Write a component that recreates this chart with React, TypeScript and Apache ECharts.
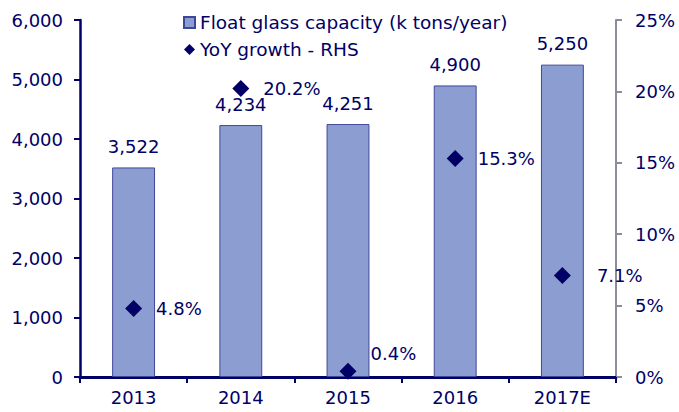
import React, { useEffect, useRef } from "react";
import * as echarts from "echarts";

const categories = ["2013", "2014", "2015", "2016", "2017E"];
const capacity = [3522, 4234, 4251, 4900, 5250];
const growth = [4.8, 20.2, 0.4, 15.3, 7.1];
const leftTicks = { min: 0, max: 6000, interval: 1000 };
const rightTicks = { min: 0, max: 25, interval: 5 };

const NAVY = "#000066";
const FONT = "DejaVu Sans";
const FS = 18;

export default function App() {
  const ref = useRef<HTMLDivElement>(null);
  useEffect(() => {
    if (!ref.current) return;
    const chart = echarts.init(ref.current, undefined, { renderer: "svg" });
    const scatterData = growth.map((v, i) => {
      const item: any = { value: v };
      if (i === 4) item.label = { distance: 26 };
      if (i === 2) item.label = { offset: [0, -18] };
      return item;
    });
    chart.setOption({
      animation: false,
      textStyle: { fontFamily: FONT, color: NAVY },
      grid: { left: 80, right: 63, top: 20, bottom: 35, containLabel: false },
      legend: {
        orient: "vertical",
        left: 178,
        top: 8,
        itemWidth: 11,
        itemHeight: 11,
        itemGap: 8,
        textStyle: { fontFamily: FONT, fontSize: 18.5, color: NAVY },
        data: [
          { name: "Float glass capacity (k tons/year)", icon: "rect" },
          { name: "YoY growth - RHS", icon: "diamond" },
        ],
      },
      xAxis: {
        type: "category",
        data: categories,
        axisLine: { lineStyle: { color: NAVY, width: 3 } },
        axisTick: { show: true, length: 6, lineStyle: { color: NAVY, width: 2 } },
        axisLabel: { fontFamily: FONT, fontSize: FS, color: NAVY, margin: 11 },
      },
      yAxis: [
        {
          type: "value",
          min: leftTicks.min,
          max: leftTicks.max,
          interval: leftTicks.interval,
          axisLine: { show: true, lineStyle: { color: NAVY, width: 2.5 } },
          axisTick: { show: true, length: 6, lineStyle: { color: NAVY, width: 2 } },
          splitLine: { show: false },
          axisLabel: {
            fontFamily: FONT,
            fontSize: FS,
            color: NAVY,
            margin: 17,
            formatter: (v: number) => v.toLocaleString("en-US"),
          },
        },
        {
          type: "value",
          min: rightTicks.min,
          max: rightTicks.max,
          interval: rightTicks.interval,
          position: "right",
          axisLine: { show: true, lineStyle: { color: "#8c8c9c", width: 2 } },
          axisTick: { show: true, length: 6, lineStyle: { color: "#8c8c9c", width: 2 } },
          splitLine: { show: false },
          axisLabel: {
            fontFamily: FONT,
            fontSize: FS,
            color: NAVY,
            margin: 19,
            formatter: (v: number) => v + "%",
          },
        },
      ],
      series: [
        {
          name: "Float glass capacity (k tons/year)",
          type: "bar",
          data: capacity,
          barWidth: "40%",
          itemStyle: { color: "#8c9ed1", borderColor: "#3f4799", borderWidth: 1 },
          label: {
            show: true,
            position: "top",
            distance: 12,
            fontFamily: FONT,
            fontSize: FS,
            color: NAVY,
            formatter: (p: any) => Number(p.value).toLocaleString("en-US"),
          },
        },
        {
          name: "YoY growth - RHS",
          type: "scatter",
          yAxisIndex: 1,
          data: scatterData,
          symbol: "diamond",
          symbolSize: 17,
          itemStyle: { color: NAVY, opacity: 1 },
          label: {
            show: true,
            position: "right",
            distance: 14,
            fontFamily: FONT,
            fontSize: FS,
            color: NAVY,
            formatter: (p: any) => Number(p.value).toFixed(1) + "%",
          },
        },
      ],
    });
    return () => chart.dispose();
  }, []);
  return (
    <div
      ref={ref}
      style={{ position: "fixed", left: 0, top: 0, width: 679, height: 412, background: "#fff" }}
    />
  );
}
